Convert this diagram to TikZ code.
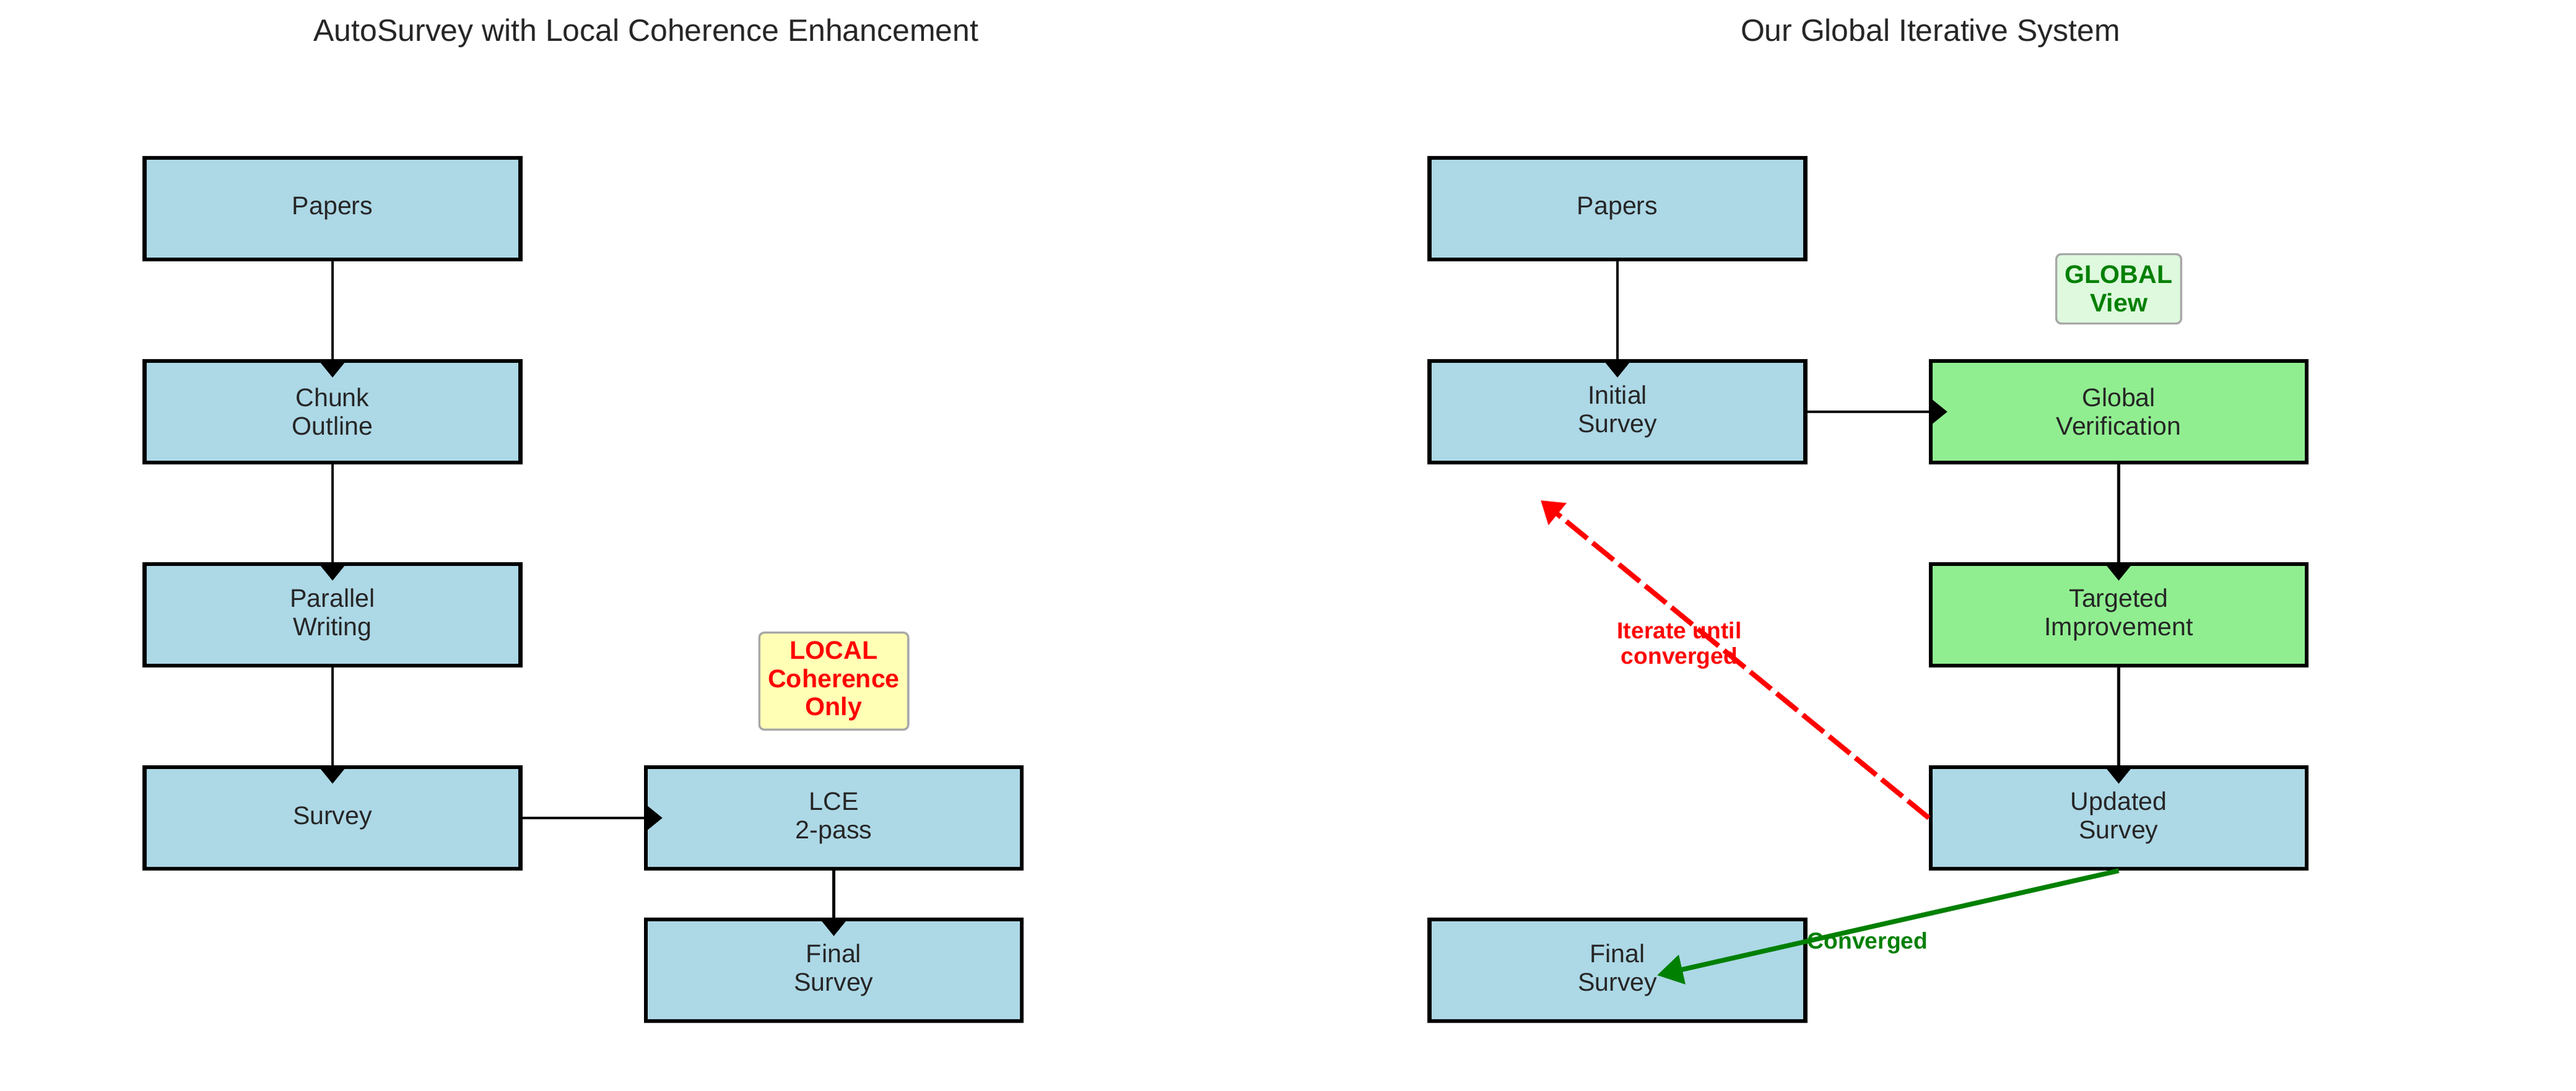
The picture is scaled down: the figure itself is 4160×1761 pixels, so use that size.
\documentclass[tikz,border=0pt]{standalone}
\usepackage{fontspec}
\setmainfont{Liberation Sans}
\usetikzlibrary{arrows.meta}

\definecolor{stageblue}{RGB}{173,216,230}
\definecolor{stagegreen}{RGB}{144,238,144}
\definecolor{inkgray}{RGB}{38,38,38}
\definecolor{localfill}{RGB}{255,255,181}
\definecolor{globalfill}{RGB}{222,249,222}
\definecolor{noteedge}{RGB}{168,168,168}
\definecolor{convgreen}{RGB}{0,128,0}

\begin{document}
\begin{tikzpicture}[x=0.1mm,y=-0.1mm,
    stage/.style={draw,line width=1.8pt,fill=stageblue,minimum width=6.07cm,minimum height=1.64cm,
      inner sep=0pt,align=center,text=inkgray,font=\fontsize{11.7}{13.1}\selectfont},
    check/.style={stage,fill=stagegreen},
    note/.style={draw=noteedge,line width=0.95pt,rounded corners=2.3pt,inner sep=4pt,align=center,
      font=\fontsize{11.7}{13}\selectfont\bfseries},
    heading/.style={anchor=base,text=inkgray,font=\fontsize{14.2}{17}\selectfont},
    flow/.style={line width=1.4pt,-{Triangle[width=11.8pt,length=7.5pt]},shorten >=-8.5pt},
    iterate/.style={red,line width=2.3pt,dash pattern=on 12.4pt off 3.2pt,-{Triangle[width=12.5pt,length=10pt]}},
    converge/.style={convgreen,line width=2.2pt,-{Triangle[width=13.4pt,length=11.8pt]}},
    edgetext/.style={align=center,font=\fontsize{10.6}{11.7}\selectfont\bfseries}]
  \useasboundingbox (0,0) rectangle (4160,1761);

  % left: AutoSurvey + LCE
  \draw
    (1043.5,66) node[heading] (titleL) {AutoSurvey with Local Coherence Enhancement}
    (537,337) node[stage] (papersL) {Papers}
    (537,665) node[stage] (chunkL) {Chunk\\Outline}
    (537,993) node[stage] (writeL) {Parallel\\Writing}
    (537,1321) node[stage] (surveyL) {Survey}
    (1346.5,1321) node[stage] (lceL) {LCE\\2-pass}
    (1346.5,1567) node[stage] (finalL) {Final\\Survey}
    (1346.5,1100) node[note,fill=localfill,text=red] (localN) {LOCAL\\Coherence\\Only};

  % right: global iterative system
  \draw
    (3117.5,66) node[heading] (titleR) {Our Global Iterative System}
    (2612,337) node[stage] (papersR) {Papers}
    (2612,665) node[stage] (initR) {Initial\\Survey}
    (3421.5,665) node[check] (verifyR) {Global\\Verification}
    (3421.5,993) node[check] (improveR) {Targeted\\Improvement}
    (3421.5,1321) node[stage] (updateR) {Updated\\Survey}
    (2612,1567) node[stage] (finalR) {Final\\Survey}
    (3421.5,466.5) node[note,fill=globalfill,text=convgreen,minimum height=1.12cm] (globalN) {GLOBAL\\View};

  \coordinate (looptip) at (2488,808);
  \coordinate (donetip) at (2676,1575);

  \begin{scope}[flow]
    \draw (papersL) to (chunkL);
    \draw (chunkL) to (writeL);
    \draw (writeL) to (surveyL);
    \draw (surveyL) to (lceL);
    \draw (lceL) to (finalL);
    \draw (papersR) to (initR);
    \draw (initR) to (verifyR);
    \draw (verifyR) to (improveR);
    \draw (improveR) to (updateR);
  \end{scope}

  \draw[iterate] (updateR.west) to (looptip);
  \draw[converge] (updateR.south) to (donetip);
  \node[edgetext,text=red] (loopT) at (2712,1042) {Iterate until\\converged};
  \node[edgetext,text=convgreen] (doneT) at (3016,1523) {Converged};
\end{tikzpicture}
\end{document}
